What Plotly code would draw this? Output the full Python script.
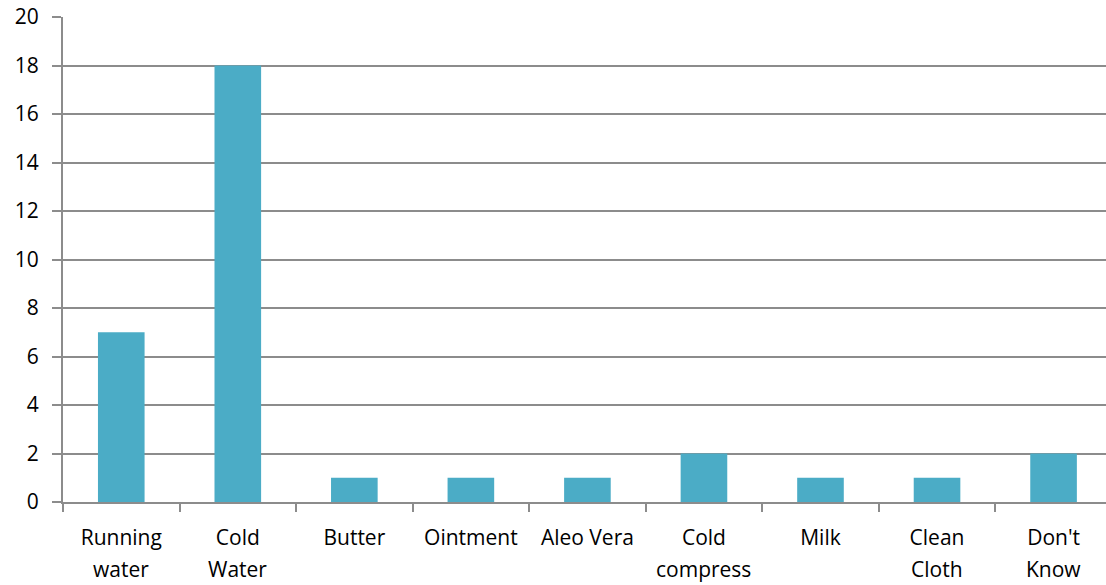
import plotly.graph_objects as go

categories = ["Running water", "Cold Water", "Butter", "Ointment", "Aleo Vera",
              "Cold compress", "Milk", "Clean Cloth", "Don't Know"]
line1 = ["Running", "Cold", "Butter", "Ointment", "Aleo Vera", "Cold", "Milk", "Clean", "Don't"]
line2 = ["water", "Water", "", "", "", "compress", "", "Cloth", "Know"]
values = [7, 18, 1, 1, 1, 2, 1, 1, 2]
y_ticks = [0, 2, 4, 6, 8, 10, 12, 14, 16, 18, 20]

FONT = "Open Sans"
FSIZE = 21
GRID = "#8c8c8c"

fig = go.Figure()
fig.add_trace(go.Bar(
    x=categories, y=values,
    marker=dict(color="#4BACC6", line=dict(width=0)),
    width=0.4,
    hoverinfo="skip",
))

annotations = []
for c, t in zip(categories, line2):
    if t:
        annotations.append(dict(
            x=c, y=0, xref="x", yref="paper", text=t, showarrow=False,
            yanchor="middle", xanchor="center", yshift=-67,
            font=dict(family=FONT, size=FSIZE, color="#000000"),
        ))

fig.update_layout(
    width=1106, height=585,
    margin=dict(l=63, r=0, t=17, b=83),
    paper_bgcolor="white", plot_bgcolor="white",
    showlegend=False,
    bargap=0.6,
    annotations=annotations,
    xaxis=dict(
        type="category",
        range=[-0.5, 8.45],
        tickmode="array", tickvals=categories, ticktext=line1,
        tickson="boundaries", ticks="outside", ticklen=8, tickcolor=GRID, tickwidth=2,
        showline=True, linecolor=GRID, linewidth=2,
        showgrid=False, zeroline=False,
        tickfont=dict(family=FONT, size=FSIZE, color="#000000"),
        ticklabelstandoff=16,
    ),
    yaxis=dict(
        range=[0, 20], tickmode="array", tickvals=y_ticks,
        ticks="outside", ticklen=9, tickcolor=GRID, tickwidth=2,
        showline=True, linecolor=GRID, linewidth=2,
        showgrid=True, gridcolor=GRID, gridwidth=2,
        zeroline=False,
        tickfont=dict(family=FONT, size=FSIZE, color="#000000"),
        ticklabelstandoff=9,
    ),
)

fig.write_html("out.html")
